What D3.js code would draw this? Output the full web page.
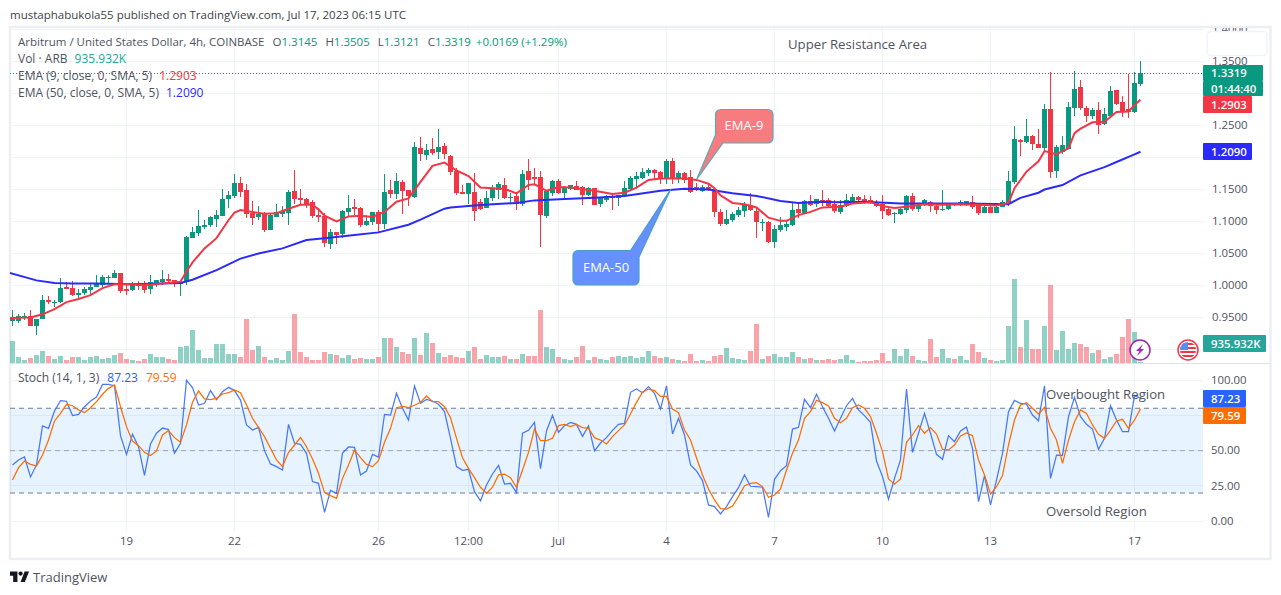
<!DOCTYPE html>
<html>
<head>
<meta charset="utf-8">
<script src="https://cdn.jsdelivr.net/npm/d3@7"></script>
<style>
html, body { margin: 0; padding: 0; background: #fff; }
svg { display: block; }
text { font-family: "Open Sans", sans-serif; }
</style>
</head>
<body>
<div id="chart"></div>
<script>
// 4h candles, oldest first (prices)
var highs = [
  .961,.956,.957,.962,.948,.985,.983,.978,1.012,1.005,
  1.007,.994,.998,1.002,1.016,1.016,1.017,1.024,1.020,1.001,
  1.005,1.007,1.007,1.016,1.009,1.024,1.018,1.009,1.007,1.077,
  1.091,1.118,1.102,1.109,1.118,1.151,1.147,1.175,1.169,1.159,
  1.132,1.125,1.115,1.111,1.128,1.124,1.149,1.181,1.151,1.136,
  1.134,1.121,1.113,1.088,1.084,1.118,1.141,1.135,1.122,1.110,
  1.115,1.118,1.174,1.165,1.176,1.165,1.149,1.224,1.232,1.221,
  1.230,1.244,1.222,1.204,1.183,1.157,1.160,1.176,1.135,1.148,
  1.157,1.161,1.168,1.145,1.143,1.180,1.197,1.183,1.179,1.149,
  1.165,1.166,1.155,1.157,1.163,1.155,1.154,1.152,1.139,1.141,
  1.144,1.142,1.163,1.171,1.177,1.183,1.183,1.182,1.179,1.197,
  1.199,1.179,1.177,1.180,1.160,1.157,1.158,1.152,1.119,1.118,
  1.115,1.122,1.130,1.144,1.122,1.104,1.101,1.094,1.107,1.101,
  1.130,1.131,1.133,1.141,1.135,1.150,1.136,1.134,1.133,1.143,
  1.143,1.140,1.141,1.140,1.133,1.142,1.121,1.115,1.123,1.142,
  1.145,1.129,1.135,1.132,1.129,1.150,1.129,1.129,1.134,1.132,
  1.140,1.129,1.124,1.128,1.128,1.133,1.179,1.249,1.229,1.260,
  1.235,1.244,1.283,1.334,1.219,1.233,1.286,1.335,1.321,1.280,
  1.277,1.286,1.277,1.311,1.305,1.296,1.330,1.333,1.3505
];
var lows = [
  .937,.941,.946,.937,.923,.947,.971,.967,.973,.995,
  .983,.981,.985,.983,.998,.997,1.003,1.011,.989,.985,
  .991,.993,.988,.987,.997,1.001,1.004,.998,.984,1.001,
  1.075,1.077,1.088,1.091,1.092,1.108,1.121,1.136,1.139,1.105,
  1.094,1.102,1.084,1.087,1.107,1.107,1.095,1.128,1.127,1.121,
  1.105,1.100,1.060,1.057,1.065,1.074,1.109,1.110,1.091,1.093,
  1.095,1.084,1.088,1.137,1.135,1.112,1.124,1.137,1.195,1.196,
  1.204,1.198,1.198,1.172,1.141,1.143,1.127,1.101,1.118,1.121,
  1.132,1.135,1.135,1.128,1.118,1.124,1.149,1.157,1.060,1.105,
  1.140,1.143,1.135,1.149,1.149,1.126,1.140,1.126,1.122,1.130,
  1.118,1.124,1.139,1.147,1.152,1.166,1.171,1.166,1.158,1.159,
  1.159,1.160,1.160,1.144,1.147,1.146,1.147,1.107,1.093,1.094,
  1.099,1.107,1.107,1.116,1.074,1.085,1.066,1.058,1.083,1.085,
  1.093,1.106,1.111,1.124,1.122,1.125,1.121,1.113,1.111,1.123,
  1.128,1.132,1.128,1.127,1.123,1.104,1.109,1.097,1.110,1.114,
  1.117,1.115,1.124,1.115,1.111,1.117,1.118,1.125,1.124,1.125,
  1.120,1.110,1.113,1.113,1.113,1.122,1.125,1.159,1.202,1.222,
  1.211,1.215,1.209,1.168,1.168,1.205,1.213,1.265,1.274,1.255,
  1.260,1.236,1.251,1.263,1.282,1.263,1.261,1.269,1.3121
];
var opens = [
  .945,.945,.949,.953,.937,.947,.977,.974,.974,.998,
  .996,.985,.988,.993,.998,1.001,1.011,1.012,1.020,.995,
  .993,1.001,1.001,.994,1.001,1.005,1.010,1.008,1.003,1.005,
  1.075,1.082,1.091,1.095,1.104,1.109,1.135,1.140,1.160,1.149,
  1.114,1.107,1.112,1.087,1.107,1.112,1.113,1.148,1.137,1.135,
  1.130,1.110,1.109,1.065,1.084,1.080,1.115,1.123,1.121,1.095,
  1.099,1.115,1.096,1.149,1.143,1.162,1.149,1.139,1.215,1.204,
  1.213,1.208,1.218,1.202,1.179,1.146,1.143,1.146,1.130,1.121,
  1.136,1.149,1.157,1.138,1.140,1.127,1.179,1.169,1.169,1.108,
  1.144,1.163,1.144,1.151,1.155,1.154,1.141,1.152,1.127,1.133,
  1.140,1.137,1.140,1.151,1.166,1.168,1.176,1.180,1.177,1.166,
  1.194,1.166,1.176,1.169,1.154,1.147,1.154,1.151,1.115,1.096,
  1.102,1.110,1.116,1.126,1.116,1.097,1.099,1.068,1.086,1.091,
  1.094,1.119,1.113,1.132,1.127,1.134,1.133,1.127,1.115,1.124,
  1.131,1.138,1.135,1.133,1.130,1.127,1.119,1.111,1.111,1.118,
  1.140,1.119,1.126,1.131,1.124,1.118,1.119,1.128,1.126,1.127,
  1.131,1.126,1.114,1.123,1.114,1.123,1.127,1.161,1.227,1.224,
  1.233,1.221,1.215,1.276,1.179,1.208,1.213,1.277,1.310,1.277,
  1.265,1.274,1.252,1.265,1.305,1.286,1.276,1.271,1.3145
];
var closes = [
  .949,.952,.953,.937,.948,.977,.974,.975,.996,.995,
  .985,.988,.995,.998,1.003,1.013,1.013,1.020,.992,.992,
  1.001,1.000,.993,1.005,1.008,1.010,1.007,1.004,1.006,1.076,
  1.084,1.093,1.095,1.107,1.110,1.135,1.141,1.160,1.146,1.112,
  1.105,1.112,1.087,1.110,1.115,1.116,1.146,1.135,1.134,1.127,
  1.109,1.107,1.066,1.084,1.079,1.116,1.121,1.120,1.095,1.101,
  1.115,1.096,1.146,1.143,1.163,1.148,1.140,1.216,1.205,1.211,
  1.207,1.216,1.206,1.177,1.144,1.143,1.160,1.116,1.119,1.136,
  1.151,1.158,1.136,1.139,1.127,1.174,1.165,1.167,1.110,1.147,
  1.163,1.144,1.152,1.157,1.150,1.141,1.152,1.126,1.138,1.140,
  1.136,1.141,1.152,1.168,1.171,1.177,1.180,1.176,1.166,1.194,
  1.166,1.176,1.165,1.146,1.149,1.154,1.149,1.115,1.096,1.104,
  1.111,1.118,1.127,1.118,1.099,1.099,1.068,1.088,1.094,1.096,
  1.118,1.113,1.132,1.126,1.135,1.131,1.124,1.116,1.126,1.133,
  1.138,1.133,1.130,1.129,1.124,1.117,1.110,1.113,1.119,1.140,
  1.119,1.126,1.133,1.124,1.118,1.119,1.128,1.127,1.130,1.132,
  1.123,1.113,1.122,1.114,1.122,1.131,1.163,1.229,1.225,1.233,
  1.221,1.215,1.276,1.177,1.216,1.219,1.279,1.307,1.277,1.265,
  1.274,1.251,1.268,1.304,1.283,1.271,1.271,1.316,1.3319
];
// volume in millions
var volumes = [
  19.8,5.4,2.7,4.5,7.2,10.8,6.3,3.6,6.3,2.7,
  5.4,5.4,2.7,5.4,6.3,3.6,4.5,7.2,9.0,3.6,
  2.7,1.8,3.6,8.1,5.4,5.4,3.6,2.7,14.4,15.3,
  29.7,11.7,4.5,4.5,17.1,17.1,8.1,8.1,5.4,39.6,
  11.7,15.3,5.4,2.7,4.5,2.7,10.8,44.1,9.9,5.4,
  2.7,2.7,9.9,8.1,7.2,4.5,7.2,3.6,4.5,3.6,
  3.6,5.4,22.5,22.5,14.4,9.9,8.1,22.5,7.2,27.0,
  18.0,9.0,5.4,7.2,5.4,4.5,10.8,14.4,3.6,7.2,
  5.4,5.4,6.3,3.6,3.6,8.1,6.3,6.3,47.7,14.4,
  12.6,5.4,3.6,2.7,5.4,15.3,2.7,5.4,3.6,2.7,
  5.4,6.3,5.4,6.3,4.5,5.4,10.8,6.3,4.5,5.4,
  3.6,2.7,1.8,8.1,1.8,2.7,1.8,6.3,7.2,13.5,
  4.5,3.6,2.7,10.8,35.1,3.6,6.3,8.1,5.4,5.4,
  9.9,5.4,3.6,4.5,2.7,2.7,3.6,2.7,3.6,7.2,
  2.7,0.9,1.8,1.8,2.7,9.0,1.8,12.6,6.3,12.6,
  6.3,2.7,1.8,21.6,5.4,12.6,4.5,3.6,6.3,2.7,
  17.1,9.9,4.5,2.7,1.8,2.7,33.3,75.6,14.4,38.7,
  12.6,12.6,33.3,70.2,11.7,28.8,12.6,18.0,17.1,14.4,
  9.0,11.7,3.6,5.4,8.1,23.4,39.6,27.9,0.936
];
// stochastic %K and %D
var stochK = [
  39.9,43.4,45.5,31.4,39.9,67.5,65.8,78.1,85.4,84.9,
  74.8,75.7,81.1,85.1,88.0,96.9,96.9,96.0,60.6,47.4,
  61.6,52.8,32.5,54.7,62.3,66.0,64.9,48.3,55.2,99.8,
  94.6,82.3,83.5,92.5,86.1,91.7,94.8,92.5,85.8,68.2,
  64.6,66.5,50.0,40.6,38.7,36.3,68.6,55.2,54.5,48.1,
  28.1,26.9,6.4,21.9,19.8,48.3,52.6,52.4,32.8,35.6,
  47.4,45.5,75.7,75.2,90.6,80.0,71.7,95.8,83.5,86.3,
  85.1,82.8,77.6,58.7,38.7,36.1,36.8,21.0,14.4,25.7,
  33.5,39.6,26.4,26.9,20.3,62.3,64.4,70.0,37.3,63.9,
  75.0,63.0,67.7,70.0,68.6,60.1,67.5,49.8,55.4,59.2,
  64.4,68.6,69.3,91.3,93.6,91.0,95.3,90.6,79.5,95.8,
  61.8,72.9,61.1,39.9,35.6,28.8,11.6,10.4,5.2,10.4,
  17.5,23.8,32.8,24.8,24.5,24.1,2.8,29.7,35.8,39.4,
  65.3,66.5,86.3,80.4,89.9,81.1,72.9,63.9,72.9,81.8,
  87.0,78.8,74.8,70.0,42.7,31.6,15.6,30.4,43.4,93.6,
  48.8,62.3,76.4,62.3,47.4,43.9,60.6,56.4,63.9,66.7,
  51.7,13.9,32.3,11.6,29.2,48.1,77.6,85.6,83.5,83.0,
  75.2,71.2,95.8,30.4,46.9,46.7,74.1,87.7,74.1,68.6,
  65.3,50.9,58.7,81.8,71.7,63.4,63.4,88.9,87.23
];
var stochD = [
  29.2,38.0,42.7,40.3,39.2,46.9,57.5,71.0,76.4,82.8,
  81.8,78.8,76.9,80.4,84.7,89.9,94.1,96.5,81.1,67.0,
  56.8,53.5,48.8,46.5,49.8,61.1,64.2,59.2,55.9,68.2,
  84.2,92.2,86.6,86.1,87.0,90.1,91.0,92.9,91.0,82.3,
  72.9,66.5,59.9,51.7,43.4,38.7,48.6,54.0,59.4,52.8,
  44.1,34.0,20.3,18.2,16.3,30.4,39.9,50.5,45.0,40.3,
  38.7,42.9,55.9,65.8,80.4,81.4,80.4,82.1,84.2,88.7,
  84.7,84.7,81.1,73.3,58.7,45.0,37.5,30.9,24.1,19.8,
  24.1,32.8,33.3,30.9,24.1,36.3,48.8,65.3,57.1,57.1,
  58.7,67.7,68.6,67.0,68.6,66.3,65.8,59.2,57.5,54.7,
  59.9,64.2,68.2,75.9,84.2,91.3,93.6,92.5,88.4,88.4,
  79.5,76.9,64.6,57.5,45.0,32.8,22.9,15.1,9.0,8.7,
  10.8,17.5,25.2,26.9,27.4,24.5,17.0,18.6,22.9,36.3,
  48.1,57.5,72.9,77.6,85.6,84.0,81.6,72.9,69.8,72.9,
  80.4,82.3,80.0,74.1,62.3,49.3,30.0,26.2,30.0,55.9,
  61.1,67.7,62.3,66.3,61.8,50.9,50.5,54.0,60.4,62.5,
  60.6,43.4,32.8,19.3,24.5,32.3,54.0,71.7,82.3,84.0,
  80.0,75.9,80.7,65.8,57.5,41.0,57.5,70.5,78.8,76.4,
  68.2,61.6,58.7,64.6,71.0,72.2,65.8,71.7,79.59
];
// EMA lines were read at these bar numbers
var ema9Bars = [-1,3,5,7,9,11,13,15,17,19,21,23,25,28,29,30,32,34,36,37,38,40,42,44,46,48,50,51,52,54,56,58,60,62,64,66,67,68,
  70,72,74,76,78,80,82,84,86,87,89,91,93,97,100,102,104,106,108,110,112,114,116,117,118,120,122,124,126,128,129,131,133,135,
  138,140,143,145,147,149,152,155,158,161,164,166,167,169,171,172,174,175,176,177,178,180,182,184,186,187,188];
var ema9Values = [.949,.950,.955,.963,.974,.979,.985,.996,1.002,1.002,1.001,1.001,1.003,1.006,1.022,1.036,1.058,1.074,1.102,1.114,1.118,1.115,1.112,1.113,1.120,1.126,1.126,1.119,1.109,1.100,1.108,1.109,1.107,1.115,1.131,1.136,1.149,1.162,
  1.187,1.192,1.180,1.171,1.153,1.152,1.151,1.144,1.157,1.158,1.148,1.154,1.153,1.148,1.143,1.145,1.153,1.165,1.167,1.167,1.167,1.165,1.159,1.152,1.141,1.129,1.127,1.122,1.106,1.101,1.101,1.110,1.115,1.122,
  1.123,1.128,1.130,1.124,1.121,1.123,1.127,1.126,1.127,1.126,1.125,1.129,1.152,1.178,1.194,1.210,1.205,1.210,1.214,1.238,1.245,1.255,1.256,1.271,1.272,1.282,1.2903];
var ema50Bars = [-1,4,7,10,14,20,28,30,34,38,41,45,49,52,57,61,66,68,72,73,77,80,84,87,92,97,102,108,112,116,120,124,128,131,135,
  137,142,148,153,159,166,168,171,172,175,178,182,184,187,188];
var ema50Values = [1.021,1.008,1.004,1.003,1.003,1.002,1.004,1.009,1.024,1.042,1.050,1.058,1.071,1.074,1.079,1.083,1.095,1.103,1.120,1.122,1.125,1.127,1.129,1.133,1.135,1.137,1.140,1.148,1.151,1.150,1.144,1.140,1.132,1.129,1.131,
  1.130,1.131,1.128,1.128,1.128,1.127,1.137,1.145,1.150,1.157,1.172,1.185,1.193,1.205,1.2090];

var priceGrid = [1.4,1.35,1.3,1.25,1.2,1.15,1.1,1.05,1.0,0.95,0.9];
// 1.3000, 1.2000 and 0.9000 sit behind the price tags
var priceTicks = [1.4,1.35,1.25,1.15,1.1,1.05,1.0,0.95];
var stochTicks = [100,50,25,0];
var stochGrid = [100,75,50,25,0];
var dateTickBars = [19,37,61,76,91,109,127,145,163,187];
var dateTickLabels = ['19','22','26','12:00','Jul','4','7','10','13','17'];

var UP = '#089981', DOWN = '#f23645', EMA9 = '#f23645', EMA50 = '#2a2aff';
var K_COLOR = '#2962ff', D_COLOR = '#ff6d00';
var GRID = '#f0f3fa', AXIS_TEXT = '#50535e', TEXT = '#50535e';

var width = 1281, height = 595;
var pane = { left: 10, right: 1203, top: 28, sep: 363, bottom: 531 };

var svg = d3.select('#chart').append('svg').attr('width', width).attr('height', height);

var x = d3.scaleLinear().domain([0, 188]).range([12.5, 1140.5]);
var yPrice = d3.scaleLinear().domain([0.95, 1.35]).range([317.5, 61.5]);
var yVol = d3.scaleLinear().domain([0, 75.6]).range([363, 279]);
var yStoch = d3.scaleLinear().domain([0, 100]).range([521.3, 380]);

var bars = d3.range(closes.length);

// clip for the two panes
var defs = svg.append('defs');
defs.append('clipPath').attr('id', 'price-clip').append('rect')
  .attr('x', pane.left).attr('y', pane.top).attr('width', pane.right - pane.left).attr('height', pane.sep - pane.top);
defs.append('clipPath').attr('id', 'stoch-clip').append('rect')
  .attr('x', pane.left).attr('y', pane.sep).attr('width', pane.right - pane.left).attr('height', pane.bottom - pane.sep);
defs.append('clipPath').attr('id', 'axis-clip').append('rect')
  .attr('x', pane.right).attr('y', pane.top).attr('width', 68).attr('height', pane.sep - pane.top);

// Frame around the widget
svg.append('rect').attr('x', 10).attr('y', 27).attr('width', 1260.5).attr('height', 532)
  .attr('fill', 'none').attr('stroke', '#eeeff4').attr('stroke-width', 2.5);
svg.append('line').attr('x1', 10).attr('x2', 1271).attr('y1', 363.5).attr('y2', 363.5)
  .attr('stroke', '#e0e3eb').attr('stroke-width', 1);

svg.append('text').attr('x', 10).attr('y', 19)
  .attr('font-size', 11.5).attr('fill', '#3c3f47')
  .text('mustaphabukola55 published on TradingView.com, Jul 17, 2023 06:15 UTC');

// Grid
var grid = svg.append('g').attr('stroke', GRID).attr('stroke-width', 1).attr('shape-rendering', 'crispEdges');
grid.selectAll('.v1').data(dateTickBars).enter().append('line')
  .attr('x1', d => x(d)).attr('x2', d => x(d)).attr('y1', pane.top).attr('y2', pane.sep);
grid.selectAll('.v2').data(dateTickBars).enter().append('line')
  .attr('x1', d => x(d)).attr('x2', d => x(d)).attr('y1', pane.sep + 1).attr('y2', pane.bottom);
grid.selectAll('.h1').data(priceGrid).enter().append('line')
  .attr('x1', pane.left).attr('x2', pane.right).attr('y1', d => yPrice(d)).attr('y2', d => yPrice(d));
grid.selectAll('.h2').data(stochGrid).enter().append('line')
  .attr('x1', pane.left).attr('x2', pane.right).attr('y1', d => yStoch(d)).attr('y2', d => yStoch(d));

// Price pane
var pricePane = svg.append('g').attr('clip-path', 'url(#price-clip)');

pricePane.append('g').selectAll('rect').data(bars).enter().append('rect')
  .attr('x', d => x(d) - 2.5).attr('width', 5)
  .attr('y', d => yVol(volumes[d]))
  .attr('height', d => 363 - yVol(volumes[d]))
  .attr('fill', d => closes[d] >= opens[d] ? UP : DOWN)
  .attr('fill-opacity', 0.45);

var candles = pricePane.append('g').attr('shape-rendering', 'crispEdges');
candles.selectAll('.wick').data(bars).enter().append('rect').attr('class', 'wick')
  .attr('x', d => x(d) - 0.5).attr('width', 1)
  .attr('y', d => yPrice(highs[d]))
  .attr('height', d => yPrice(lows[d]) - yPrice(highs[d]))
  .attr('fill', d => closes[d] >= opens[d] ? UP : DOWN);
candles.selectAll('.body').data(bars).enter().append('rect').attr('class', 'body')
  .attr('x', d => x(d) - 2.5).attr('width', 5)
  .attr('y', d => yPrice(Math.max(opens[d], closes[d])))
  .attr('height', d => Math.max(1, Math.abs(yPrice(opens[d]) - yPrice(closes[d]))))
  .attr('fill', d => closes[d] >= opens[d] ? UP : DOWN);

var emaLine = d3.line().x(d => x(d[0])).y(d => yPrice(d[1]));
pricePane.append('path').datum(d3.zip(ema50Bars, ema50Values))
  .attr('d', emaLine).attr('fill', 'none').attr('stroke', EMA50).attr('stroke-width', 2);
pricePane.append('path').datum(d3.zip(ema9Bars, ema9Values))
  .attr('d', emaLine).attr('fill', 'none').attr('stroke', EMA9).attr('stroke-width', 2);

// last price line
svg.append('line').attr('x1', pane.left).attr('x2', pane.right)
  .attr('y1', Math.round(yPrice(1.3319)) + 0.5).attr('y2', Math.round(yPrice(1.3319)) + 0.5)
  .attr('stroke', UP).attr('stroke-dasharray', '1,2');

// Legends
var legend = svg.append('g').attr('font-size', 12);
function legendLine(y, parts, size) {
  var t = legend.append('text').attr('x', 18).attr('y', y).attr('fill', TEXT).attr('font-size', size || 12);
  parts.forEach(function(p) {
    t.append('tspan').attr('fill', p[1] || TEXT).attr('dx', p[2] || 0).text(p[0]);
  });
}
legendLine(46, [['Arbitrum / United States Dollar, 4h, COINBASE'],
  ['O', null, 8], ['1.3145', UP], ['H', null, 8], ['1.3505', UP], ['L', null, 8], ['1.3121', UP],
  ['C', null, 8], ['1.3319', UP], ['+0.0169 (+1.29%)', UP, 5]], 11.5);
legendLine(63, [['Vol · ARB'], ['935.932K', '#26a69a', 7]]);
legendLine(80, [['EMA (9, close, 0, SMA, 5)'], ['1.2903', EMA9, 7]]);
legendLine(97, [['EMA (50, close, 0, SMA, 5)'], ['1.2090', EMA50, 7]]);
legendLine(382, [['Stoch (14, 1, 3)'], ['87.23', K_COLOR, 8], ['79.59', D_COLOR, 8]]);

// Callouts
function callout(d, fill, stroke, label, tx, ty) {
  svg.append('path').attr('d', d).attr('fill', fill).attr('stroke', stroke).attr('stroke-width', 1.2);
  svg.append('text').attr('x', tx).attr('y', ty).attr('text-anchor', 'middle')
    .attr('font-size', 13).attr('fill', '#fff').text(label);
}
callout('M720 109.5H768a5 5 0 0 1 5 5V138a5 5 0 0 1 -5 5H723L696.7 179.3L715.5 135V114.5a5 5 0 0 1 5 -5Z',
  '#f77c80', '#5ca9b8', 'EMA-9', 744, 130);
callout('M578 250.5H630.5L670.7 189.3L639 257V280a5 5 0 0 1 -5 5H578a5 5 0 0 1 -5 -5V255.5a5 5 0 0 1 5 -5Z',
  '#6690ff', '#4a9fc6', 'EMA-50', 606, 272);

// Notes on the chart
var notes = svg.append('g').attr('font-size', 13.2).attr('fill', TEXT);
notes.append('text').attr('x', 788).attr('y', 49).text('Upper Resistance Area');
notes.append('text').attr('x', 1046).attr('y', 399).text('Overbought Region');
notes.append('text').attr('x', 1046).attr('y', 516).text('Oversold Region');

// Stoch pane
var stochPane = svg.append('g').attr('clip-path', 'url(#stoch-clip)');
stochPane.append('rect').attr('x', pane.left).attr('width', pane.right - pane.left)
  .attr('y', yStoch(80)).attr('height', yStoch(20) - yStoch(80))
  .attr('fill', '#2196f3').attr('fill-opacity', 0.11);
[[80, 1], [50, 0.6], [20, 1]].forEach(function(l) {
  stochPane.append('line').attr('x1', pane.left).attr('x2', pane.right)
    .attr('y1', yStoch(l[0])).attr('y2', yStoch(l[0]))
    .attr('stroke', '#787b86').attr('stroke-opacity', l[1]).attr('stroke-dasharray', '5,4');
});
var kLine = d3.line().x((d, i) => x(i)).y(d => yStoch(d));
stochPane.append('path').datum(stochK).attr('d', kLine).attr('fill', 'none').attr('stroke', K_COLOR).attr('stroke-width', 1.25).attr('stroke-opacity', 0.85);
stochPane.append('path').datum(stochD).attr('d', kLine).attr('fill', 'none').attr('stroke', D_COLOR).attr('stroke-width', 1.25);

// Axes
function styleAxis(g) {
  g.select('.domain').remove();
  g.selectAll('.tick line').remove();
  g.selectAll('text').attr('fill', AXIS_TEXT).attr('font-size', 11.4).attr('font-family', '"Open Sans", sans-serif');
}
svg.append('g').attr('clip-path', 'url(#axis-clip)').append('g')
  .attr('transform', `translate(${pane.right},0)`)
  .call(d3.axisRight(yPrice).offset(0).tickValues(priceTicks).tickFormat(d3.format('.4f')).tickSize(0).tickPadding(9))
  .call(styleAxis);
svg.append('g').attr('transform', `translate(${pane.right},0)`)
  .call(d3.axisRight(yStoch).offset(0).tickValues(stochTicks).tickFormat(d3.format('.2f')).tickSize(0).tickPadding(8))
  .call(styleAxis);
svg.append('g').attr('transform', 'translate(0,534)')
  .call(d3.axisBottom(x).offset(0).tickValues(dateTickBars).tickFormat((d, i) => dateTickLabels[i]).tickSize(0).tickPadding(3))
  .call(styleAxis);

// Covers the top of the price scale
svg.append('rect').attr('x', 1207).attr('y', 31.5).attr('width', 60).attr('height', 24).attr('rx', 4)
  .attr('fill', '#fff').attr('stroke', '#f0f3fa').attr('stroke-width', 1.5);

// Labels on the price scale
function priceLabel(y, h, w, fill, label) {
  svg.append('rect').attr('x', pane.right).attr('y', y).attr('width', w).attr('height', h).attr('rx', 1).attr('fill', fill);
  svg.append('text').attr('x', pane.right + 8).attr('y', y + h / 2 + 4.2)
    .attr('font-size', 11.4).attr('font-weight', 600).attr('fill', '#fff').text(label);
}
priceLabel(65, 16, 60, UP, '1.3319');
priceLabel(81, 15, 60, UP, '01:44:40');
svg.select('text:last-of-type');
priceLabel(96, 17, 49, DOWN, '1.2903');
priceLabel(143, 17, 49, EMA50, '1.2090');
priceLabel(335, 17, 63, '#26a69a', '935.932K');
priceLabel(390, 17, 43, K_COLOR, '87.23');
priceLabel(407, 17, 43, D_COLOR, '79.59');

// Lightning badge
var bolt = svg.append('g').attr('transform', 'translate(1140,350)');
bolt.append('circle').attr('r', 10).attr('fill', '#fff').attr('stroke', '#9c27b0').attr('stroke-width', 1.5);
bolt.append('path').attr('d', 'M3 -6L-4 1H-0.5L-3 6L4 -1H0.5Z').attr('fill', '#9c27b0');

// US economic events badge
var flag = svg.append('g').attr('transform', 'translate(1188,350)');
defs.append('clipPath').attr('id', 'flag-clip').append('circle').attr('r', 8);
flag.append('circle').attr('r', 10).attr('fill', '#fff').attr('stroke', '#f23645').attr('stroke-width', 1.5);
var flagInner = flag.append('g').attr('clip-path', 'url(#flag-clip)');
[-6, -2, 2, 6].forEach(function(s) {
  flagInner.append('rect').attr('x', -8).attr('width', 16).attr('y', s - 1).attr('height', 2).attr('fill', '#f23645');
});
flagInner.append('rect').attr('x', -8).attr('y', -8).attr('width', 8).attr('height', 8).attr('fill', '#5b8def');

// TradingView logo
var logo = svg.append('g').attr('transform', 'translate(10,571.5) scale(0.53)');
logo.append('path').attr('d', 'M14 0H0V8H6V20H14ZM28 20H20L27.5 0H36Z').attr('fill', '#131722');
logo.append('circle').attr('cx', 20).attr('cy', 4).attr('r', 4).attr('fill', '#131722');
svg.append('text').attr('x', 33).attr('y', 582).attr('font-size', 13).attr('fill', '#50535e').text('TradingView');
</script>
</body>
</html>
